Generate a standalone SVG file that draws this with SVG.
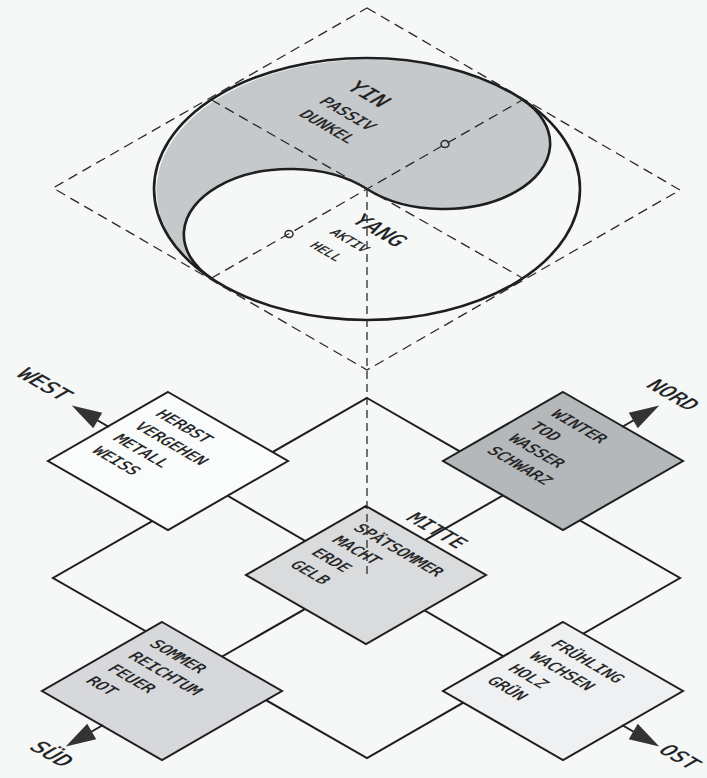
<svg xmlns="http://www.w3.org/2000/svg" width="707" height="778" viewBox="0 0 707 778">
<style>
.bg{fill:#f6f8f8}
.dash{fill:none;stroke:#2a2a2a;stroke-width:1.3;stroke-dasharray:10 6}
.vdash{fill:none;stroke:#2a2a2a;stroke-width:1.3;stroke-dasharray:8 5}
.solid{fill:none;stroke:#1e1e1e;stroke-width:2}
.thick{fill:none;stroke:#1e1e1e;stroke-width:2.6}
.node{stroke:#1e1e1e;stroke-width:2}
.t{font-family:"DejaVu Sans Mono","Liberation Mono",monospace;fill:#1e1e1e;stroke:#1e1e1e;stroke-width:0.35}
.head{fill:#333333}
.dot{fill:none;stroke:#2a2a2a;stroke-width:1.5}
</style>
<rect class="bg" x="0" y="0" width="707" height="778"/>

<g id="yinyang">
  <path d="M 211.2 278.3 A 213 131 0 0 1 522.8 99.7 A 106.5 65.5 0 0 1 367 189 A 106.5 65.5 0 0 0 211.2 278.3 Z" fill="#c6c9cc"/>
  <ellipse class="thick" cx="367" cy="189" rx="213" ry="131"/>
  <path class="thick" d="M 522.8 99.7 A 106.5 65.5 0 0 1 367 189 A 106.5 65.5 0 0 0 211.2 278.3"/>
  <ellipse class="dot" cx="445" cy="144" rx="4" ry="3.5"/>
  <ellipse class="dot" cx="289" cy="234" rx="4" ry="3.5"/>
</g>

<g id="connectors">
  <polygon class="dash" points="367,8 680,190 367,370 53,188"/>
  <line class="dash" x1="211.2" y1="99.7" x2="522.8" y2="278.3"/>
  <line class="dash" x1="211.2" y1="278.3" x2="522.8" y2="99.7"/>
  <polygon class="solid" points="367,398 680,578 367,758 53,578"/>
  <line class="solid" x1="168" y1="461" x2="563" y2="691"/>
  <line class="solid" x1="563" y1="461" x2="162" y2="691"/>
</g>

<g id="herbst">
  <polygon class="node" fill="#fafbfb" points="168,392 288,461 168,530 48,461"/>
  <g class="t" font-size="16" transform="translate(168 461) matrix(0.866 0.5 -0.866 0.5 0 0)">
    <text x="-54" y="-38.5">HERBST</text>
    <text x="-54" y="-14">VERGEHEN</text>
    <text x="-54" y="10.5">METALL</text>
    <text x="-54" y="35">WEISS</text>
  </g>
</g>
<g id="winter">
  <polygon class="node" fill="#b5b8bb" points="563,392 683,461 563,530 443,461"/>
  <g class="t" font-size="16" transform="translate(563 461) matrix(0.866 0.5 -0.866 0.5 0 0)">
    <text x="-54" y="-38.5">WINTER</text>
    <text x="-54" y="-14">TOD</text>
    <text x="-54" y="10.5">WASSER</text>
    <text x="-54" y="35">SCHWARZ</text>
  </g>
</g>
<g id="mitte">
  <polygon class="node" fill="#d9dbdd" points="366,506 486,575 366,644 246,575"/>
  <g class="t" font-size="16" transform="translate(366 575) matrix(0.866 0.5 -0.866 0.5 0 0)">
    <text x="-54" y="-38.5">SPÄTSOMMER</text>
    <text x="-54" y="-14">MACHT</text>
    <text x="-54" y="10.5">ERDE</text>
    <text x="-54" y="35">GELB</text>
  </g>
  <text class="t" font-size="20" transform="matrix(0.866 0.5 -0.866 0.5 405 519)">MITTE</text>
</g>
<g id="sommer">
  <polygon class="node" fill="#d6d8db" points="162,622 282,691 162,760 42,691"/>
  <g class="t" font-size="16" transform="translate(162 691) matrix(0.866 0.5 -0.866 0.5 0 0)">
    <text x="-54" y="-38.5">SOMMER</text>
    <text x="-54" y="-14">REICHTUM</text>
    <text x="-54" y="10.5">FEUER</text>
    <text x="-54" y="35">ROT</text>
  </g>
</g>
<g id="fruehling">
  <polygon class="node" fill="#eef0f1" points="563,622 683,691 563,760 443,691"/>
  <g class="t" font-size="16" transform="translate(563 691) matrix(0.866 0.5 -0.866 0.5 0 0)">
    <text x="-54" y="-38.5">FRÜHLING</text>
    <text x="-54" y="-14">WACHSEN</text>
    <text x="-54" y="10.5">HOLZ</text>
    <text x="-54" y="35">GRÜN</text>
  </g>
</g>

<g id="arrows">
  <g transform="translate(109 427) rotate(210)">
    <line class="solid" x1="0" y1="0" x2="14" y2="0"/>
    <polygon class="head" points="13,-9 43,0 13,9"/>
  </g>
  <g transform="translate(622 427) rotate(-30)">
    <line class="solid" x1="0" y1="0" x2="14" y2="0"/>
    <polygon class="head" points="13,-9 43,0 13,9"/>
  </g>
  <g transform="translate(103 725) rotate(150)">
    <line class="solid" x1="0" y1="0" x2="14" y2="0"/>
    <polygon class="head" points="13,-9 43,0 13,9"/>
  </g>
  <g transform="translate(622 725) rotate(30)">
    <line class="solid" x1="0" y1="0" x2="14" y2="0"/>
    <polygon class="head" points="13,-9 43,0 13,9"/>
  </g>
</g>

<g id="axis">
  <line class="vdash" x1="367" y1="189" x2="367" y2="575"/>
</g>

<g id="labels" class="t">
  <text font-size="22" transform="matrix(0.866 0.5 -0.866 0.5 345 88)">YIN</text>
  <text font-size="16" transform="matrix(0.866 0.5 -0.866 0.5 318 102)">PASSIV</text>
  <text font-size="16" transform="matrix(0.866 0.5 -0.866 0.5 298 115)">DUNKEL</text>
  <text font-size="22" transform="matrix(0.866 0.5 -0.866 0.5 350 221)">YANG</text>
  <text font-size="13" transform="matrix(0.866 0.5 -0.866 0.5 329 233)">AKTIV</text>
  <text font-size="13" transform="matrix(0.866 0.5 -0.866 0.5 309 246)">HELL</text>
  <text font-size="22" transform="matrix(0.866 0.5 -0.866 0.5 15 375)">WEST</text>
  <text font-size="21" transform="matrix(0.866 0.5 -0.866 0.5 645 386)">NORD</text>
  <text font-size="22" transform="matrix(0.866 0.5 -0.866 0.5 28 748)">SÜD</text>
  <text font-size="21" transform="matrix(0.866 0.5 -0.866 0.5 657 751)">OST</text>
</g>
</svg>
